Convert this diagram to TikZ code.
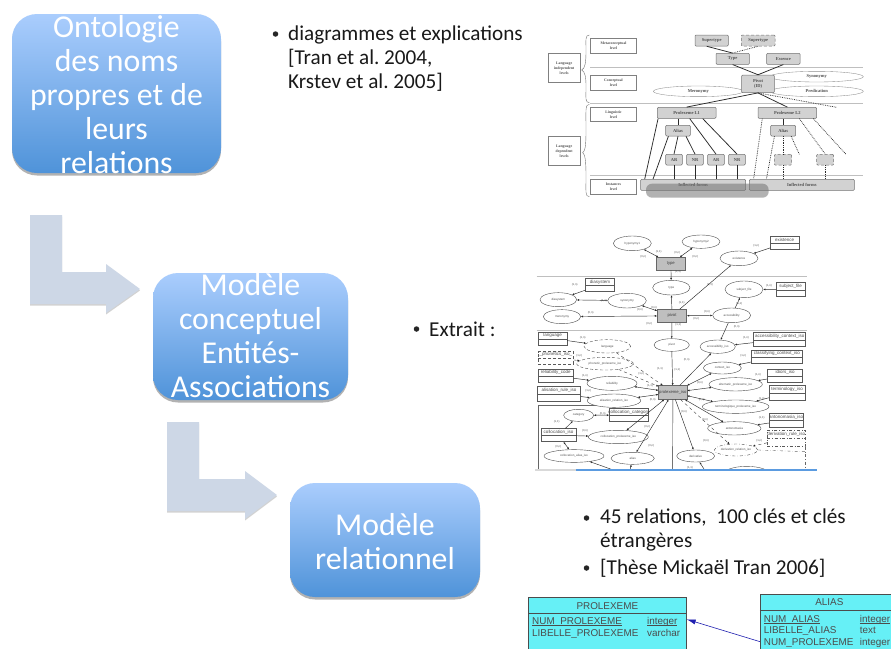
\documentclass[tikz,border=0pt]{standalone}
\usepackage{fontspec}
\setmainfont[Ligatures={Common,Rare}]{Carlito}
\newfontfamily\arialf{Liberation Sans}
\newfontfamily\timesf{Liberation Serif}
\usetikzlibrary{arrows.meta,shadows,calc,shapes.geometric}
\definecolor{bxtop}{HTML}{AACDFD}
\definecolor{bxbot}{HTML}{4F93D9}
\definecolor{arrowc}{HTML}{CDD7E6}
\definecolor{cyanc}{HTML}{66F0F6}
\definecolor{graybx}{HTML}{D2D2D2}
\definecolor{lineg}{HTML}{2A2A2A}
\definecolor{txtg}{HTML}{505050}
\definecolor{barb}{HTML}{5B9BE0}
\definecolor{tblue}{HTML}{1F1FB0}
\frenchspacing
\tikzset{
  bigbox/.style={rounded corners=25pt,top color=bxtop,bottom color=bxbot,draw=none,inner sep=0pt,
     drop shadow={opacity=.6,shadow xshift=0pt,shadow yshift=-2.5pt}},
  bigtxt/.style={text=white,align=center,font=\fontsize{31.8}{34}\selectfont,inner sep=0pt},
  bltxt/.style={anchor=west,align=left,inner sep=0pt,font=\fontsize{21.2}{24}\selectfont,text=black!90},
  bul/.style={circle,fill=black!85,minimum size=5.5pt,inner sep=0pt},
  arrowshape/.style={fill=arrowc,drop shadow={opacity=.35,shadow xshift=0pt,shadow yshift=-1.5pt}},
  % ontology image
  lvl/.style={draw=black!50,fill=white,line width=.4pt,inner sep=0pt,align=center,text=txtg,
     font=\timesf\bfseries\fontsize{3.8}{5}\selectfont},
  gbx/.style={draw=black!55,fill=graybx,rounded corners=1pt,line width=.5pt,inner sep=0pt,align=center,text=txtg,
     font=\timesf\bfseries\fontsize{4.5}{5.5}\selectfont},
  gdash/.style={gbx,densely dashed},
  oel/.style={ellipse,draw=black!45,fill=white,line width=.35pt,inner sep=0pt,text=txtg,
     font=\timesf\bfseries\fontsize{4.5}{5.5}\selectfont},
  ol/.style={line width=.75pt,draw=lineg},
  old/.style={line width=.75pt,draw=lineg,densely dotted},
  sep/.style={draw=black!25,line width=.5pt},
  % ER image
  et/.style={draw=black!65,fill=white,line width=.45pt,inner sep=0pt},
  etxt/.style={inner sep=0pt,text=black!70,font=\arialf\fontsize{4.5}{5}\selectfont},
  eg/.style={draw=black!60,fill=black!25,line width=.45pt,inner sep=0pt,text=black!75,font=\arialf\fontsize{4.2}{5}\selectfont},
  ee/.style={ellipse,draw=black!70,fill=white,line width=.4pt,inner sep=0pt,text=txtg,font=\arialf\fontsize{3}{4}\selectfont},
  er/.style={draw=lineg,line width=.45pt,-{Latex[length=2.2pt,width=2pt]}},
  err/.style={draw=lineg,line width=.45pt,{Latex[length=2.2pt,width=2pt]}-{Latex[length=2.2pt,width=2pt]}},
  erp/.style={draw=lineg,line width=.45pt},
  erd/.style={draw=lineg,line width=.35pt,dashed,-{Latex[length=2.2pt,width=2pt]}},
  card/.style={inner sep=0pt,text=txtg,font=\arialf\fontsize{2.8}{3}\selectfont},
  % relational tables
  rtab/.style={draw=black!70,fill=cyanc,line width=.4pt,inner sep=0pt},
  rtxt/.style={inner sep=0pt,anchor=base west,text=black!70,font=\arialf\fontsize{9.9}{11}\selectfont},
  rhd/.style={inner sep=0pt,text=black!70,font=\arialf\fontsize{9.9}{11}\selectfont},
}
% rectangle-like node from corners, in 1/3 pt scope coordinates
\newcommand\rct[7][]{\node[#1,minimum width={(#5-#3)/3*1pt},minimum height={(#6-#4)/3*1pt}] (#2) at ({(#3+#5)/2},{(#4+#6)/2}) {#7};}
% ellipse node: centre and radii
\newcommand\elp[7][]{\node[#1,minimum width={2*#5/3*1pt},minimum height={2*#6/3*1pt}] (#2) at (#3,#4) {#7};}
% two-compartment table with a title
\newcommand\tb[7][]{\rct[et,#1]{#2}{#3}{#4}{#5}{#6}{}
  \draw[#1,draw=black!65,line width=.45pt] ($(#2.north west)!.52!(#2.south west)$) -- ($(#2.north east)!.52!(#2.south east)$);
  \node[etxt] (#2t) at ($(#2.north)!.26!(#2.south)$) {#7};}
\newcommand\ulx[1]{\setbox0\hbox{#1}\rlap{\copy0}\raisebox{-1.4pt}{\rule{\wd0}{.4pt}}}
\def\zn{(0,n)}\def\on{(1,n)}\def\oo{(1,1)}
\begin{document}
\begin{tikzpicture}[x=1pt,y=-1pt]
\useasboundingbox (0,0) rectangle (891,648);
\fill[white] (0,0) rectangle (891,648);

% ---- L arrows
\fill[arrowshape] (30,215) -- (62,215) -- (62,272) -- (106,272) -- (106,264) -- (140,289) -- (106,313) -- (106,304) -- (30,304) -- cycle;
\fill[arrowshape] (167,422) -- (199,422) -- (199,479) -- (245,479) -- (245,471) -- (277,495) -- (245,519) -- (245,511) -- (167,511) -- cycle;

% ---- big boxes
\node[bigbox,minimum width=209pt,minimum height=159pt] (b1) at (116.5,93.5) {};
\node[bigtxt] (b1t) at (116.5,94.5) {Ontologie\\des noms\\propres et de\\leurs\\relations};
\node[bigbox,minimum width=195pt,minimum height=127pt] (b2) at (250.5,336.5) {};
\node[bigtxt] (b2t) at (250.5,335.5) {Modèle\\conceptuel\\Entités-\\Associations};
\node[bigbox,minimum width=190pt,minimum height=114pt] (b3) at (385,540) {};
\node[bigtxt] (b3t) at (385,541.5) {Modèle\\relationnel};

% ---- bullets
\node[bul] (u1) at (275.5,34) {};
\node[bltxt] (t1) at (288,59) {diagrammes et explications\\{[}Tran et al. 2004,\\Krs\kern0pt tev et al. 2005{]}};
\node[bul] (u2) at (416.5,329) {};
\node[bltxt] (t2) at (429,329) {Extrait :};
\node[bul] (u3) at (586.5,518) {};
\node[bltxt] (t3) at (600,530) {45 relations,\ \ 100 clés et clés\\étrangères};
\node[bul] (u4) at (586.5,568) {};
\node[bltxt] (t4) at (600,568) {[Thèse Mic\kern0pt kaël Tran 2006]};

% ---- ontology image
\begin{scope}[shift={(530,20)},x=0.33333pt,y=-0.33333pt]
\draw[sep] (180,142) -- (1000,142);
\draw[sep] (180,250) -- (1000,250);
\draw[sep] (180,467) -- (1000,467);
\rct[lvl]{l1}{181}{55}{320}{100}{Metaconceptual\\level}
\rct[lvl]{l2}{181}{165}{320}{210}{Conceptual\\level}
\rct[lvl]{l3}{181}{262}{320}{305}{Linguistic\\level}
\rct[lvl]{l4}{181}{478}{320}{522}{Instances\\level}
\rct[lvl]{l5}{55}{100}{150}{187}{Language\\independent\\levels}
\rct[lvl]{l6}{55}{350}{150}{436}{Language\\dependent\\levels}
\draw[draw=black!55,line width=.4pt] (178,45) .. controls (165,45) and (168,60) .. (168,90) .. controls (168,130) and (165,145) .. (155,150) .. controls (165,155) and (168,170) .. (168,200) .. controls (168,235) and (165,248) .. (178,248);
\draw[draw=black!55,line width=.4pt] (178,253) .. controls (165,253) and (168,270) .. (168,330) .. controls (168,380) and (165,393) .. (158,398) .. controls (165,403) and (168,420) .. (168,470) .. controls (168,515) and (165,530) .. (178,530);
\elp[oel]{syn}{860}{170}{140}{16}{Synonymy}
\elp[oel]{pre}{860}{214}{140}{16}{Predication}
\elp[oel]{mer}{505}{214}{135}{16}{Meronymy}
\rct[gbx]{st1}{495}{45}{595}{78}{Supertype}
\rct[gdash]{st2}{634}{45}{735}{78}{Supertype}
\rct[gbx]{ty}{558}{100}{658}{133}{Type}
\rct[gbx]{es}{710}{100}{810}{133}{Essence}
\rct[gbx]{pv}{635}{165}{733}{218}{Pivot\\(ID)}
\rct[gbx]{p1}{382}{262}{558}{295}{Prolexeme L1}
\rct[gbx]{p2}{684}{262}{860}{295}{Prolexeme L2}
\rct[gbx]{a1}{407}{316}{481}{348}{Alias}
\rct[gbx]{a2}{722}{316}{797}{348}{Alias}
\rct[gbx]{n1}{407}{403}{457}{435}{AR}
\rct[gbx]{n2}{470}{403}{520}{435}{NR}
\rct[gbx]{n3}{533}{403}{583}{435}{AR}
\rct[gbx]{n4}{596}{403}{646}{435}{NR}
\rct[gdash]{n5}{733}{403}{785}{435}{}
\rct[gdash]{n6}{860}{403}{911}{435}{}
\rct[gbx]{f1}{332}{478}{647}{511}{Inflected forms}
\rct[gbx]{f2}{658}{478}{973}{511}{Inflected forms}
\coordinate (pvend) at (920,262);
\coordinate (a2end) at (808,403);
\coordinate (p2end) at (948,403);
\draw[ol] ([xshift=-5pt]st1.south) -- (ty.north);
\draw[old] (st2.south) -- (ty.north);
\draw[ol] (ty.south) -- (pv.north);
\draw[ol] (es.south) -- (pv.north);
\draw[ol] (pv.south) -- (p1.north);
\draw[ol] (pv.south) -- (p2.north);
\draw[old] (pv.south) -- (pvend);
\draw[ol] ([xshift=1pt]p1.south west) -- ([xshift=4.3pt]f1.north west);
\draw[ol] (p1.south -| a1.north) -- (a1.north);
\draw[ol] ([xshift=3pt]a1.south west) -- ([xshift=12.6pt]f1.north west);
\draw[ol] (a1.south) -- (n1.north);
\draw[ol] ([xshift=8pt]a1.south) -- (n2.north);
\draw[ol] ([xshift=3pt]p1.south) -- (n3.north);
\draw[ol] ([xshift=16pt]p1.south) -- (n4.north);
\draw[ol] (n1.south) -- (n1.south |- f1.north);
\draw[ol] (n2.south) -- (n2.south |- f1.north);
\draw[ol] (n3.south) -- (n3.south |- f1.north);
\draw[ol] (n4.south) -- (n4.south |- f1.north);
\draw[old] ([xshift=4.5pt]p2.south west) -- ([xshift=4.5pt]f2.north west);
\draw[ol] (p2.south -| a2.north) -- (a2.north);
\draw[old] ([xshift=4pt]a2.south west) -- ([xshift=17.3pt]f2.north west);
\draw[old] (a2.south) -- (n5.north -| a2.south);
\draw[old] ([xshift=8pt]a2.south) -- (a2end);
\draw[old] ([xshift=12pt]p2.south) -- (n6.north);
\draw[old] ([xshift=26pt]p2.south) -- (p2end);
\draw[old] (n5.south -| a2.south) -- (f2.north -| a2.south);
\draw[old] (n6.south) -- (n6.south |- f2.north);
\fill[black!55,opacity=.55,rounded corners=6pt] (348,491) rectangle (716,533);
\end{scope}

% ---- ER image
\begin{scope}
\clip (530,230) rectangle (820,469);
\begin{scope}[shift={(530,230)},x=0.33333pt,y=-0.33333pt]
\draw[sep] (20,138) -- (830,138);
\draw[sep] (20,300) -- (830,300);
\elp[ee]{hyp1}{307}{40}{57}{22}{hyponymy1}
\elp[ee]{hyp2}{513}{35}{57}{20}{hyponymy2}
\elp[ee]{eex}{627}{85}{57}{22}{existence}
\elp[ee]{ety}{424}{173}{56}{22}{type}
\elp[ee]{esu}{642}{178}{57}{25}{subject\_file}
\elp[ee]{edi}{85}{209}{55}{21}{diasystem}
\elp[ee]{esy}{291}{212}{58}{22}{synonymy}
\elp[ee]{eme}{96}{260}{56}{21}{meronymy}
\elp[ee]{eac}{605}{256}{57}{22}{accessibility}
\elp[ee]{epi}{425}{345}{53}{19}{pivot}
\elp[ee]{eai}{563}{350}{53}{20}{accessibility\_iso}
\elp[ee,densely dashed]{ela}{232}{349}{70}{20}{language}
\rct[eg]{gty}{380}{82}{465}{120}{type}
\rct[eg]{gpi}{382}{238}{470}{277}{pivot}
\tb{tex}{721}{20}{807}{58}{existence}
\tb{tdi}{167}{146}{253}{184}{diasystem}
\tb{tsu}{739}{158}{825}{199}{subject\_file}
\tb{tla}{25}{306}{111}{345}{language}
\tb{tac}{671}{308}{827}{350}{accessibility\_context\_iso}
\foreach \x/\y/\t [count=\i] in {679/47/\on,386/65/\oo,340/80/\zn,442/68/\zn,496/80/\zn,444/126/\oo,134/164/\on,222/212/\oo,330/238/\zn,372/234/\zn,182/248/\zn,358/282/\zn,455/218/\oo,540/165/\oo,717/166/\on,628/222/\oo,531/244/\zn,499/267/\zn,445/285/\oo,620/291/\zn,648/323/\on,158/323/\on}
  \node[card] (ca\i) at (\x,\y) {\t};
\end{scope}
\begin{scope}[shift={(530,350)},x=0.33333pt,y=-0.33333pt]
\draw[black!60,line width=.4pt] (240,165) -- (25,165) -- (25,358);
\elp[ee,densely dashed]{eph}{225}{41}{85}{19}{phonetic\_prolexeme\_iso}
\elp[ee]{eco}{577}{54}{57}{18}{context\_iso}
\elp[ee]{ere}{246}{100}{75}{21}{reliability}
\elp[ee]{eal}{617}{103}{80}{20}{alternatic\_prolexeme\_iso}
\elp[ee]{ear}{252}{152}{80}{20}{alisation\_relation\_iso}
\elp[ee]{ete}{617}{170}{100}{20}{terminologique\_prolexeme\_iso}
\elp[ee]{eca}{146}{196}{45}{18}{category}
\elp[ee]{ean}{613}{235}{80}{20}{antonomasia}
\elp[ee]{ecp}{265}{261}{90}{20}{collocation\_prolexeme\_iso}
\elp[ee,dash dot]{edr}{618}{300}{65}{18}{derivation\_relation\_iso}
\elp[ee]{eca2}{132}{318}{90}{19}{collocation\_alias\_iso}
\elp[ee]{eas}{308}{325}{65}{18}{alias}
\elp[ee]{edv}{497}{318}{57}{18}{derivative}
\elp[ee]{ebo}{650}{375}{72}{26}{}
\rct[eg]{gpr}{386}{107}{471}{148}{prolexeme\_iso}
\tb[densely dashed]{tph}{25}{5}{130}{42}{\_phonetics\_iso\_}
\tb{tcl}{663}{0}{818}{40}{classifying\_context\_iso}
\tb{tre}{25}{57}{130}{98}{reliability\_code}
\tb{tal}{22}{110}{152}{153}{alisation\_rule\_iso}
\tb{tid}{712}{58}{818}{98}{idiors\_iso}
\tb{tte}{717}{107}{826}{150}{terminology\_iso}
\tb{tcc}{238}{176}{355}{214}{collocation\_category}
\tb{tco}{33}{236}{138}{275}{collocation\_iso}
\tb{tan}{717}{190}{820}{232}{antonomasia\_iso}
\tb[dash dot]{tdr}{712}{240}{825}{290}{derivation\_rule\_iso}
\draw[black!60,line width=.35pt,dash dot] (tdr.south east) -- ++(0,70);
\draw[black!60,line width=.35pt,dash dot] (edr.east) -- (825,305);
\coordinate (gprbot) at (428,360);
\coordinate (ealow) at (250,360);
\coordinate (easlow) at (300,360);
\coordinate (edvlow) at (525,362);
\foreach \x/\y/\t [count=\i] in {148/17/\on,334/70/\on,390/55/\oo,442/60/\oo,470/28/\zn,640/17/\on,165/77/\on,360/107/\oo,175/123/\on,368/150/\zn,510/97/\zn,684/75/\on,515/150/\zn,695/145/\on,462/186/\zn,525/208/\zn,528/272/\zn,695/202/\oo,688/272/\on,80/214/\oo,218/192/\zn,165/242/\zn,352/231/\zn,85/291/\zn,364/288/\zn,480/352/\oo}
  \node[card] (cb\i) at (\x,\y) {\t};
\end{scope}
% connectors
\draw[err] (gty) -- (hyp1);
\draw[err] (gty) -- (hyp2);
\draw[er] (gty) -- (ety);
\draw[er] (tex) -- (eex);
\draw[er] (gpi) -- (eex);
\draw[er] (gpi) -- (ety);
\draw[er] (tdi) -- (edi);
\draw[er] (esy) -- (edi);
\draw[err] (esy) -- (gpi);
\draw[err] (gpi) -- (eme);
\draw[err] (gpi) -- (eac);
\draw[er] (eac) -- (esu);
\draw[er] (tsu) -- (esu);
\draw[er] (eac) -- (eai);
\draw[er] (tac) -- (eai);
\draw[er] (gpi) -- (epi);
\draw[er] (epi) -- (gpr);
\draw[er] (tla) -- (ela);
\draw[erd] (ela) -- (gpr);
\draw[er] (gpr) -- (eai);
\draw[erd] (tph) -- (eph);
\draw[erd] (eph) -- (gpr);
\draw[er] (tre) -- (ere);
\draw[err] (ere) -- (gpr);
\draw[er] (tal) -- (ear);
\draw[err] (ear) -- (gpr);
\draw[err] (gpr) -- (eco);
\draw[er] (tcl) -- (eco);
\draw[err] (gpr) -- (eal);
\draw[er] (tid) -- (eal);
\draw[err] (gpr) -- (ete);
\draw[er] (tte) -- (ete);
\draw[err] (gpr) -- (ean);
\draw[er] (tan) -- (ean);
\draw[erd] (gpr) -- (edr);
\draw[erd] (tdr) -- (edr);
\draw[er] (gpr) -- (edv);
\draw[err] (gpr) -- (ecp);
\draw[er] (tco) -- (ecp);
\draw[err] (gpr) -- (eas);
\draw[err] (tcc) -- (eca);
\draw[er] (tco) -- (eca);
\draw[err] (tco) -- (eca2);
\draw[er] (ealow) -- (eca2);
\draw[er] (easlow) -- (eas);
\draw[erp] (gpr) -- (gprbot);
\draw[er] (edvlow) -- (edv);
\end{scope}
\fill[black!15] (535,468.5) rectangle (576,470.5);
\fill[barb] (576,468.5) rectangle (817,470.5);

% ---- relational tables
\begin{scope}
\clip (520,590) rectangle (891,648);
\begin{scope}[shift={(520,590)},x=0.33333pt,y=-0.33333pt]
\rct[rtab]{pro}{25}{23}{500}{200}{}
\rct[rtab]{ali}{720}{13}{1140}{200}{}
\draw[black!70,line width=.4pt] (pro.west |- 0,71) -- (pro.east |- 0,71);
\draw[black!70,line width=.4pt] (ali.west |- 0,61) -- (ali.east |- 0,61);
\node[rhd] (prh) at (262,47) {PROLEXEME};
\node[rhd] (alh) at (928,35) {ALIAS};
\node[rtxt] (pr1) at (36,103) {\ulx{NUM\_PROLEXEME}};
\node[rtxt] (pr2) at (381,103) {\ulx{integer}};
\node[rtxt] (pr3) at (36,140) {LIBELLE\_PROLEXEME};
\node[rtxt] (pr4) at (381,140) {varchar};
\node[rtxt] (al1) at (731,97) {\ulx{NUM\_ALIAS}};
\node[rtxt] (al2) at (1019,97) {\ulx{integer}};
\node[rtxt] (al3) at (731,131) {LIBELLE\_ALIAS};
\node[rtxt] (al4) at (1019,131) {text};
\node[rtxt] (al5) at (731,165) {NUM\_PROLEXEME};
\node[rtxt] (al6) at (1019,165) {integer};
\coordinate (alp) at (720,155);
\coordinate (prp) at (500,88);
\draw[tblue,line width=.6pt,-{Latex[length=9pt,width=5pt]}] (alp) -- (prp);
\end{scope}
\end{scope}
\end{tikzpicture}
\end{document}
